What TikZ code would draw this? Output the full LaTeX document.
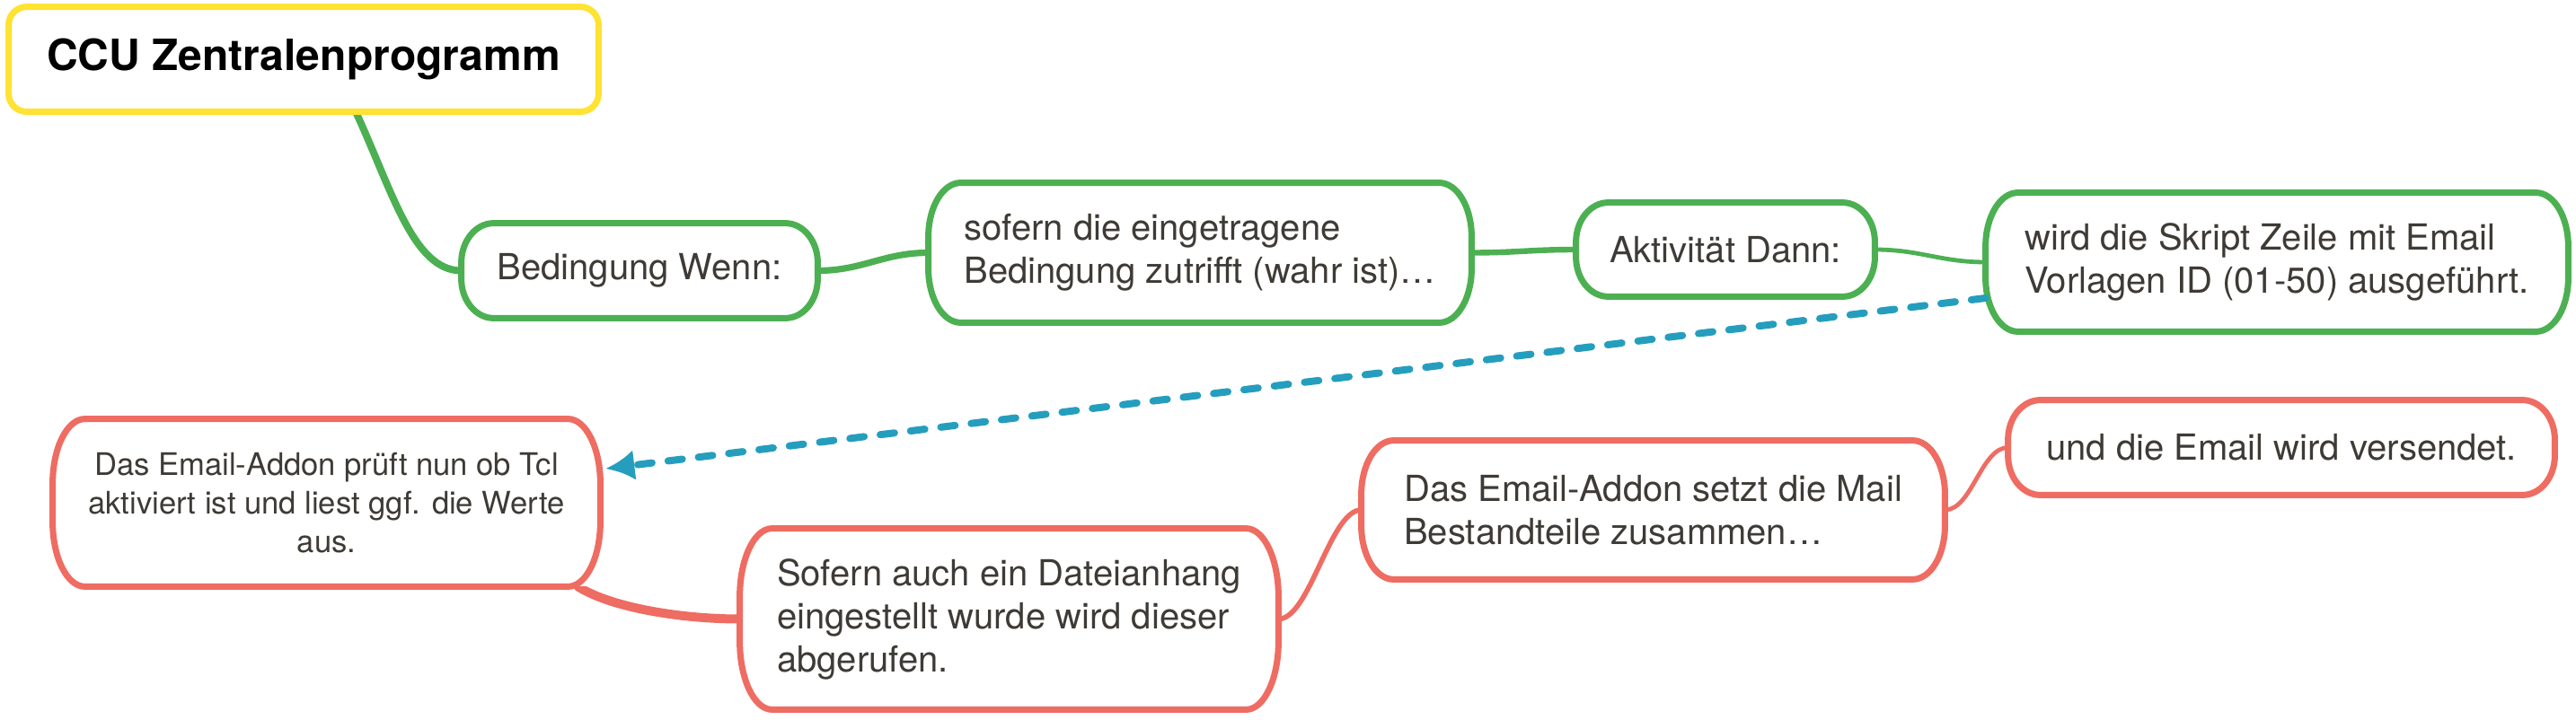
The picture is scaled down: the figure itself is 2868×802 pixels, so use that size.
\documentclass[tikz,border=0pt]{standalone}
\usepackage{fontspec}
\setmainfont{TeX Gyre Heros}
\usetikzlibrary{arrows.meta}
\definecolor{mmgreen}{RGB}{76,176,82}
\definecolor{mmred}{RGB}{239,108,98}
\definecolor{mmyellow}{RGB}{255,226,50}
\definecolor{mmblue}{RGB}{37,158,190}
\definecolor{mmtext}{RGB}{62,58,54}
\pgfdeclarelayer{bg}
\pgfsetlayers{bg,main}
\newcommand\mmframe[5]{%
  \draw[#2, line width=#5]
    ([xshift=#3]#1.north west) -- ([xshift=-#3]#1.north east)
    arc[start angle=90, end angle=0, x radius=#3, y radius=#4]
    -- ([yshift=#4]#1.south east)
    arc[start angle=0, end angle=-90, x radius=#3, y radius=#4]
    -- ([xshift=#3]#1.south west)
    arc[start angle=270, end angle=180, x radius=#3, y radius=#4]
    -- ([yshift=-#4]#1.north west)
    arc[start angle=180, end angle=90, x radius=#3, y radius=#4]
    -- cycle;}
\tikzset{
  mmnode/.style={draw=none, fill=white, inner sep=0pt, rectangle, text=mmtext,
    font=\fontsize{20pt}{24pt}\selectfont, align=left},
  mmsmall/.style={font=\fontsize{17.3pt}{21.5pt}\selectfont, align=center},
  gline/.style={mmgreen, line cap=round},
  rline/.style={mmred, line cap=round},
  dline/.style={mmblue, line width=4pt, line cap=round, dash pattern=on 8pt off 9pt,
    -{Latex[length=16pt,width=17pt]}}
}
\begin{document}
\begin{tikzpicture}[x=0.5pt,y=-0.5pt]
\useasboundingbox (0,0) rectangle (2868,802);
% nodes
\node[mmnode, text=black, font=\fontsize{24pt}{28pt}\selectfont\bfseries,
  minimum width=328pt, minimum height=58pt] (root) at (338,66) {CCU Zentralenprogramm};
\node[mmnode, minimum width=198pt, minimum height=52.5pt] (bed) at (712,301.5) {Bedingung Wenn:};
\node[mmnode, minimum width=302pt, minimum height=77.5pt] (sof) at (1336,281.5)
  {sofern die eingetragene\\Bedingung zutrifft (wahr ist)…};
\node[mmnode, minimum width=166pt, minimum height=52pt] (akt) at (1921,278) {Aktivität Dann:};
\node[mmnode, minimum width=324pt, minimum height=77pt] (wird) at (2535,292)
  {wird die Skript Zeile mit Email\\Vorlagen ID (01-50) ausgeführt.};
\node[mmnode, mmsmall, minimum width=304.5pt, minimum height=93pt] (ea) at (363.5,560)
  {Das Email-Addon prüft nun ob Tcl\\aktiviert ist und liest ggf. die Werte\\aus.};
\node[mmnode, minimum width=299.5pt, minimum height=100.5pt] (sa) at (1123.5,689.5)
  {Sofern auch ein Dateianhang\\eingestellt wurde wird dieser\\abgerufen.};
\node[mmnode, minimum width=324.5pt, minimum height=77pt] (setzt) at (1840.5,568)
  {Das Email-Addon setzt die Mail\\Bestandteile zusammen…};
\node[mmnode, minimum width=304pt, minimum height=52.5pt] (und) at (2540,498.5)
  {und die Email wird versendet.};
% connectors
\begin{pgfonlayer}{bg}
\draw[gline, line width=4pt] ([xshift=29pt]root.south) .. controls +(40,86) and +(-54,0) .. (bed.west);
\draw[gline, line width=3.6pt] (bed.east) .. controls +(50,0) and +(-50,0) .. (sof.west);
\draw[gline, line width=3.2pt] (sof.east) .. controls +(50,0) and +(-50,0) .. (akt.west);
\draw[gline, line width=2.4pt] (akt.east) .. controls +(50,0) and +(-50,0) .. (wird.west);
\draw[rline, line width=5pt] ([xshift=-12.5pt]ea.south east) .. controls +(40,25) and +(-60,0) .. (sa.west);
\draw[rline, line width=2.8pt] (sa.east) .. controls +(35,0) and +(-35,0) .. (setzt.west);
\draw[rline, line width=2.4pt] (setzt.east) .. controls +(30,0) and +(-30,0) .. (und.west);
\end{pgfonlayer}
% frames
\mmframe{root}{mmyellow}{10pt}{10pt}{3.5pt}
\mmframe{bed}{mmgreen}{18pt}{22pt}{3.5pt}
\mmframe{sof}{mmgreen}{18pt}{30pt}{3.5pt}
\mmframe{akt}{mmgreen}{18pt}{22pt}{3.5pt}
\mmframe{wird}{mmgreen}{18pt}{30pt}{3.5pt}
\mmframe{ea}{mmred}{18pt}{36pt}{3.5pt}
\mmframe{sa}{mmred}{18pt}{38pt}{3.5pt}
\mmframe{setzt}{mmred}{18pt}{30pt}{3.5pt}
\mmframe{und}{mmred}{18pt}{22pt}{3.5pt}
% dashed relation
\draw[dline] ([yshift=-20pt]wird.west) -- ([xshift=3pt,yshift=19pt]ea.east);
\end{tikzpicture}
\end{document}
